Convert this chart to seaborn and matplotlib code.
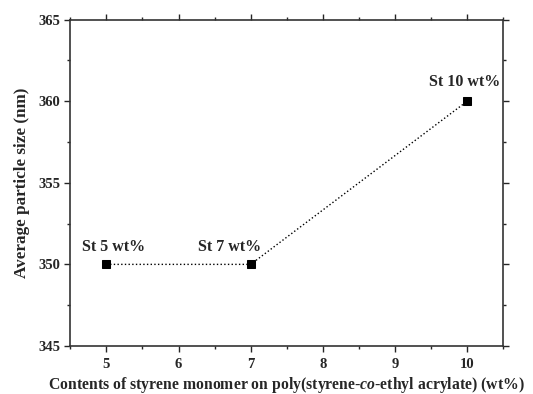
import numpy as np
import pandas as pd
import matplotlib
matplotlib.use('Agg')
import matplotlib.pyplot as plt
import seaborn as sns
from matplotlib.ticker import MultipleLocator

# 数据
styrene_wt = [5, 7, 10]
particle_size = [350, 350, 360]
point_labels = ['St 5 wt%', 'St 7 wt%', 'St 10 wt%']

sns.set_theme(style='ticks')
plt.rcParams['font.family'] = ['Liberation Serif', 'DejaVu Serif']
plt.rcParams['font.weight'] = 'bold'
plt.rcParams['mathtext.fontset'] = 'custom'
plt.rcParams['mathtext.rm'] = 'Liberation Serif:bold'
plt.rcParams['mathtext.bf'] = 'Liberation Serif:bold'
plt.rcParams['mathtext.it'] = 'Liberation Serif:italic:bold'
plt.rcParams['mathtext.bfit'] = 'Liberation Serif:italic:bold'

fig, ax = plt.subplots(figsize=(5.33, 3.94), dpi=100)

df = pd.DataFrame({'x': styrene_wt, 'y': particle_size})
sns.lineplot(data=df, x='x', y='y', ax=ax, color='black', linestyle=':',
             linewidth=1.0, marker='s', markersize=6, markeredgecolor='black')

# 点标注
offsets = [(5, 7), (-15, 7), (-2, 8)]
for xv, yv, lab, off in zip(styrene_wt, particle_size, point_labels, offsets):
    ax.annotate(lab, (xv, yv), xytext=off, textcoords='offset points',
                ha='center', va='bottom', fontsize=11.5, fontweight='bold')

ax.set_xlim(4.5, 10.5)
ax.set_ylim(345, 365)
ax.xaxis.set_major_locator(MultipleLocator(1))
ax.xaxis.set_minor_locator(MultipleLocator(0.5))
ax.yaxis.set_major_locator(MultipleLocator(5))
ax.yaxis.set_minor_locator(MultipleLocator(2.5))
ax.tick_params(which='both', direction='out', width=1, labelsize=10.5)
ax.tick_params(axis='x', which='both', pad=5)
ax.tick_params(which='major', length=4)
ax.tick_params(which='minor', length=2.5)
ax.tick_params(which='both', top=True, right=True, labeltop=False, labelright=False)
for lab in ax.get_xticklabels() + ax.get_yticklabels():
    lab.set_fontweight('bold')

for sp in ax.spines.values():
    sp.set_linewidth(1.2)
    sp.set_color('#333333')

ax.set_xlabel('Contents of styrene monomer on poly(styrene-$\\mathit{co}$-ethyl acrylate) (wt%)',
              fontsize=11.3, fontweight='bold')
ax.xaxis.set_label_coords(0.5, -0.09)
ax.set_ylabel('Average particle size (nm)', fontsize=12.3, fontweight='bold', labelpad=6)

fig.subplots_adjust(left=0.132, right=0.944, top=0.95, bottom=0.122)
plt.savefig('out.png', dpi=100)
